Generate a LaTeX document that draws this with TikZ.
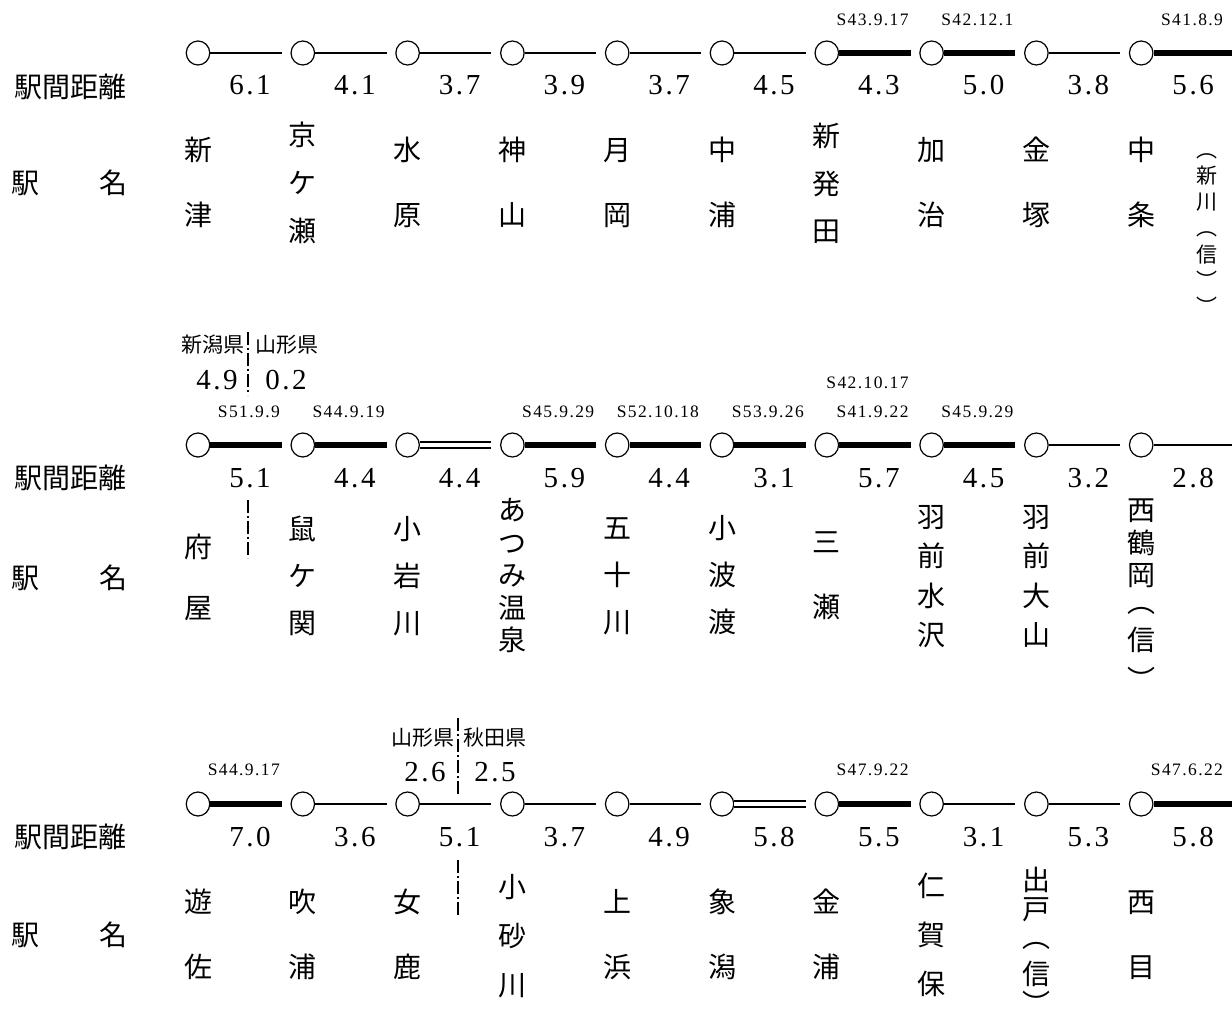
\documentclass[tikz,border=0pt]{standalone}
\usepackage{fontspec}
\usetikzlibrary{shapes.geometric}
\newfontfamily\jp{Noto Sans CJK JP}
\newfontfamily\numf[LetterSpace=9]{Liberation Serif}
\newfontfamily\datef[LetterSpace=8]{Liberation Serif}
\tikzset{
  stn/.style={ellipse, draw, line width=1.2pt, minimum width=23.5pt, minimum height=24pt, inner sep=0pt},
  trkthin/.style={line width=2.2pt, shorten >=8.6pt},
  trkthick/.style={line width=6pt, shorten >=8.6pt},
  trkdbl/.style={line width=2pt, double=white, double distance=3.5pt, shorten >=8.6pt},
  jc/.style={font=\jp\fontsize{28}{28}\selectfont, inner sep=0pt, text height=24.6pt, text depth=3.4pt},
  jcs/.style={font=\jp\fontsize{21}{21}\selectfont, inner sep=0pt, text height=18.5pt, text depth=2.5pt},
  pref/.style={font=\jp\fontsize{21}{21}\selectfont, inner sep=0pt},
  dist/.style={font=\numf\fontsize{29}{29}\selectfont, inner sep=0pt},
  datel/.style={font=\datef\fontsize{17.5}{17.5}\selectfont, inner sep=0pt, anchor=east},
  border/.style={line width=1.5pt, dash pattern=on 13pt off 3pt on 2pt off 3pt}
}
\newcommand\vname[5]{%
  \foreach \ch [count=\i from 0] in {#5}{\node[jc] (#1-\i) at (#2,#3+\i*#4) {\ch};}}
\newcommand\vnamep[3]{%
  \foreach \yy/\ch [count=\i from 0] in {#3}{\node[jc] (#1-\i) at (#2,\yy) {\ch};}}
\newcommand\vnames[5]{%
  \foreach \ch [count=\i from 0] in {#5}{\node[jcs] (#1-\i) at (#2,#3+\i*#4) {\ch};}}
\begin{document}
\begin{tikzpicture}[x=1pt,y=-1pt]
\useasboundingbox (0,0) rectangle (1232,1019);
% ---------- Row 1 ----------
\node[jc] (l1a) at (70,87) {駅間距離};
\node[jc] (l1b) at (26,183) {駅};
\node[jc] (l1c) at (113,183) {名};
\foreach \k in {0,...,9} \node[stn] (a\k) at (198+104.8*\k,53) {};
\coordinate (aend) at (1232,53);
\draw[trkthin] (a0) -- (a1);
\draw[trkthin] (a1) -- (a2);
\draw[trkthin] (a2) -- (a3);
\draw[trkthin] (a3) -- (a4);
\draw[trkthin] (a4) -- (a5);
\draw[trkthin] (a5) -- (a6);
\draw[trkthick] (a6) -- (a7);
\draw[trkthick] (a7) -- (a8);
\draw[trkthin] (a8) -- (a9);
\draw[trkthick,shorten >=0pt] (a9) -- (aend);
\foreach \d [count=\k from 0] in {6.1,4.1,3.7,3.9,3.7,4.5,4.3,5.0,3.8,5.6}
  \node[dist] (ad\k) at (250+104.8*\k,85) {\d};
\node[datel] (at6) at (198+104.8*6+82,20) {S43.9.17};
\node[datel] (at7) at (198+104.8*7+82,20) {S42.12.1};
\node[datel] (at9) at (198+104.8*9+82,20) {S41.8.9};
\vname{an0}{198}{150}{65}{新,津}
\vname{an1}{302.8}{135}{48}{京,ケ,瀬}
\vname{an2}{407.6}{150}{65}{水,原}
\vname{an3}{512.4}{150}{65}{神,山}
\vname{an4}{617.2}{150}{65}{月,岡}
\vname{an5}{722}{150}{65}{中,浦}
\vname{an6}{826.8}{136}{47.5}{新,発,田}
\vname{an7}{931.6}{150}{65}{加,治}
\vname{an8}{1036.4}{150}{65}{金,塚}
\vname{an9}{1141.2}{150}{65}{中,条}
\vnames{anx}{1207}{150}{26}{︵,新,川,︵,信,︶,︶}
% ---------- Row 2 ----------
\node[jc] (l2a) at (70,478) {駅間距離};
\node[jc] (l2b) at (26,578) {駅};
\node[jc] (l2c) at (113,578) {名};
\foreach \k in {0,...,9} \node[stn] (b\k) at (198+104.8*\k,445) {};
\coordinate (bend) at (1232,445);
\draw[trkthick] (b0) -- (b1);
\draw[trkthick] (b1) -- (b2);
\draw[trkdbl] (b2) -- (b3);
\draw[trkthick] (b3) -- (b4);
\draw[trkthick] (b4) -- (b5);
\draw[trkthick] (b5) -- (b6);
\draw[trkthick] (b6) -- (b7);
\draw[trkthick] (b7) -- (b8);
\draw[trkthin] (b8) -- (b9);
\draw[trkthin,shorten >=0pt] (b9) -- (bend);
\foreach \d [count=\k from 0] in {5.1,4.4,4.4,5.9,4.4,3.1,5.7,4.5,3.2,2.8}
  \node[dist] (bd\k) at (250+104.8*\k,478) {\d};
\node[datel] (bt0) at (198+82,412) {S51.9.9};
\node[datel] (bt1) at (198+104.8*1+82,412) {S44.9.19};
\node[datel] (bt3) at (198+104.8*3+82,412) {S45.9.29};
\node[datel] (bt4) at (198+104.8*4+82,412) {S52.10.18};
\node[datel] (bt5) at (198+104.8*5+82,412) {S53.9.26};
\node[datel] (bt6u) at (198+104.8*6+82,383) {S42.10.17};
\node[datel] (bt6) at (198+104.8*6+82,412) {S41.9.22};
\node[datel] (bt7) at (198+104.8*7+82,412) {S45.9.29};
\node[pref] (bp1) at (213,345) {新潟県};
\node[pref] (bp2) at (287,345) {山形県};
\node[dist] (bs1) at (217,380) {4.9};
\node[dist] (bs2) at (286,380) {0.2};
\coordinate (bb1) at (248,332); \coordinate (bb2) at (248,395);
\coordinate (bb3) at (248,500); \coordinate (bb4) at (248,558);
\draw[border] (bb1) -- (bb2);
\draw[border] (bb3) -- (bb4);
\vname{bn0}{198}{547}{61}{府,屋}
\vname{bn1}{302.8}{529}{47}{鼠,ケ,関}
\vname{bn2}{407.6}{529}{47}{小,岩,川}
\vname{bn3}{512.4}{510}{32.5}{あ,つ,み,温,泉}
\vname{bn4}{617.2}{528}{47}{五,十,川}
\vname{bn5}{722}{528}{47}{小,波,渡}
\vname{bn6}{826.8}{542}{65}{三,瀬}
\vname{bn7}{931.6}{517}{39.3}{羽,前,水,沢}
\vname{bn8}{1036.4}{517}{39.3}{羽,前,大,山}
\vnamep{bn9}{1141.2}{510/西,543/鶴,575/岡,602/︵,640/信,680/︶}
% ---------- Row 3 ----------
\node[jc] (l3a) at (70,837) {駅間距離};
\node[jc] (l3b) at (26,935) {駅};
\node[jc] (l3c) at (113,935) {名};
\foreach \k in {0,...,9} \node[stn] (c\k) at (198+104.8*\k,804) {};
\coordinate (cend) at (1232,804);
\draw[trkthick] (c0) -- (c1);
\draw[trkthin] (c1) -- (c2);
\draw[trkthin] (c2) -- (c3);
\draw[trkthin] (c3) -- (c4);
\draw[trkthin] (c4) -- (c5);
\draw[trkdbl] (c5) -- (c6);
\draw[trkthick] (c6) -- (c7);
\draw[trkthin] (c7) -- (c8);
\draw[trkthin] (c8) -- (c9);
\draw[trkthick,shorten >=0pt] (c9) -- (cend);
\foreach \d [count=\k from 0] in {7.0,3.6,5.1,3.7,4.9,5.8,5.5,3.1,5.3,5.8}
  \node[dist] (cd\k) at (250+104.8*\k,837) {\d};
\node[datel] (ct0) at (198+82,770) {S44.9.17};
\node[datel] (ct6) at (198+104.8*6+82,770) {S47.9.22};
\node[datel] (ct9) at (198+104.8*9+82,770) {S47.6.22};
\node[pref] (cp1) at (423,738) {山形県};
\node[pref] (cp2) at (495,738) {秋田県};
\node[dist] (cs1) at (425,772) {2.6};
\node[dist] (cs2) at (495,772) {2.5};
\coordinate (cb1) at (458,718); \coordinate (cb2) at (458,795);
\coordinate (cb3) at (458,860); \coordinate (cb4) at (458,918);
\draw[border] (cb1) -- (cb2);
\draw[border] (cb3) -- (cb4);
\vname{cn0}{198}{902}{65}{遊,佐}
\vname{cn1}{302.8}{902}{65}{吹,浦}
\vname{cn2}{407.6}{902}{65}{女,鹿}
\vname{cn3}{512.4}{887}{49}{小,砂,川}
\vname{cn4}{617.2}{902}{65}{上,浜}
\vname{cn5}{722}{902}{65}{象,潟}
\vname{cn6}{826.8}{902}{65}{金,浦}
\vname{cn7}{931.6}{886}{49}{仁,賀,保}
\vnamep{cn8}{1036.4}{880/出,909/戸,937/︵,974/信,1004/︶}
\vname{cn9}{1141.2}{902}{65}{西,目}
\end{tikzpicture}
\end{document}
